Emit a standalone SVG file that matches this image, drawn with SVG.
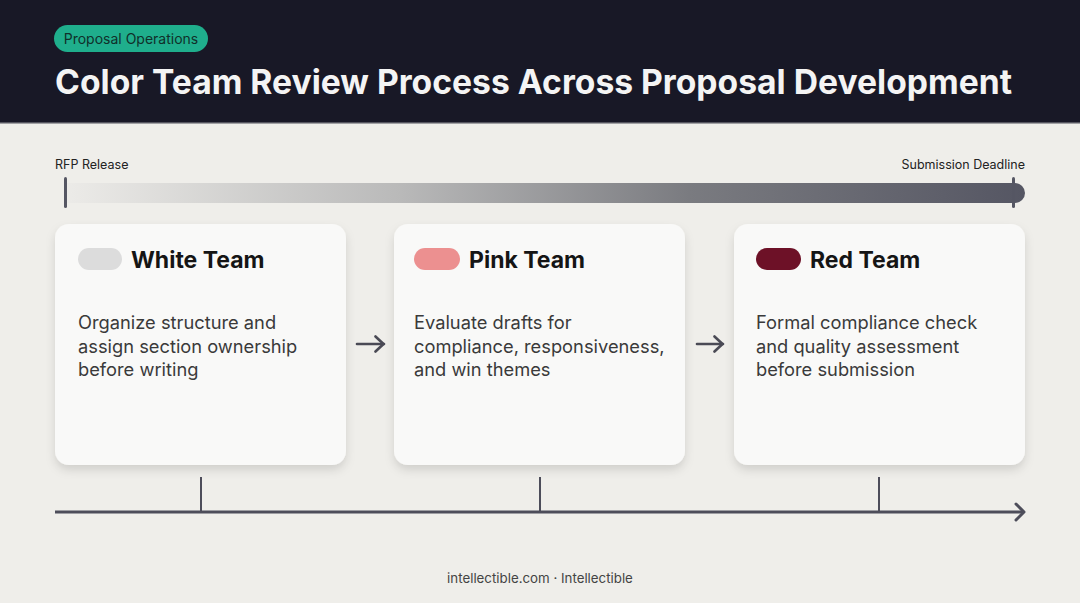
<svg xmlns="http://www.w3.org/2000/svg" width="1080" height="603" viewBox="0 0 1080 603">
<defs>
<linearGradient id="bar" x1="0" y1="0" x2="1" y2="0">
<stop offset="0" stop-color="#ecebe8"/>
<stop offset="0.35" stop-color="#b9b9b9"/>
<stop offset="0.65" stop-color="#7a7b80"/>
<stop offset="1" stop-color="#555663"/>
</linearGradient>
<filter id="sh" x="-10%" y="-10%" width="120%" height="125%">
<feDropShadow dx="0" dy="5" stdDeviation="5" flood-color="#000" flood-opacity="0.13"/>
</filter>
<marker id="chev" viewBox="0 0 12 20" refX="10" refY="10" markerWidth="12" markerHeight="20" markerUnits="userSpaceOnUse" orient="auto">
<path d="M2 2 L10 10 L2 18" fill="none" stroke="#4d4d5a" stroke-width="3" stroke-linecap="round" stroke-linejoin="round"/>
</marker>
<marker id="ah" viewBox="0 0 12 18" refX="11" refY="9" markerWidth="12" markerHeight="18" markerUnits="userSpaceOnUse" orient="auto">
<path d="M2.5 1.5 L10.5 9 L2.5 16.5" fill="none" stroke="#4a4a55" stroke-width="2.6" stroke-linecap="round" stroke-linejoin="round"/>
</marker>
</defs>
<style>
.f{font-family:Inter,"Liberation Sans",Arial,sans-serif}
.card{fill:#f9f9f8;filter:url(#sh)}
.ttl{font-size:23px;font-weight:700;fill:#151515}
.desc{font-size:18.3px;fill:#3a3a3a}
.lbl{font-size:12.5px;fill:#222}
.ax{stroke:#4d4d5a;fill:none}
</style>
<rect x="0" y="0" width="1080" height="603" fill="#efeeea"/>
<rect x="0" y="0" width="1080" height="123" fill="#181826"/>
<rect x="0" y="122" width="1080" height="1.5" fill="#55555f"/>
<g id="badge">
<rect x="54" y="25" width="154" height="27" rx="13.5" fill="#1fae8c"/>
<text class="f" x="131" y="44" font-size="14" fill="#10302a" text-anchor="middle">Proposal Operations</text>
</g>
<text id="title" class="f" x="55" y="94" font-size="34" font-weight="700" fill="#f4f4f4" textLength="957" lengthAdjust="spacingAndGlyphs">Color Team Review Process Across Proposal Development</text>
<g id="timeline">
<text class="f lbl" x="55" y="169">RFP Release</text>
<text class="f lbl" x="1025" y="169" text-anchor="end">Submission Deadline</text>
<path d="M65 183 H1015 A10 10 0 0 1 1015 203 H65 Z" fill="url(#bar)"/>
<rect x="64" y="177" width="3" height="31" rx="1.5" fill="#555663"/>
<rect x="1012" y="177" width="3" height="31" rx="1.5" fill="#555663"/>
</g>
<g id="white-team">
<rect class="card" x="55" y="224" width="291" height="241" rx="14"/>
<rect x="78" y="248" width="44" height="22" rx="11" fill="#dcdcdc"/>
<text class="f ttl" x="131" y="268">White Team</text>
<text class="f desc"><tspan x="78" y="329">Organize structure and</tspan><tspan x="78" y="352.5">assign section ownership</tspan><tspan x="78" y="376">before writing</tspan></text>
</g>
<g id="pink-team">
<rect class="card" x="394" y="224" width="291" height="241" rx="14"/>
<rect x="414" y="248" width="46" height="22" rx="11" fill="#ec9090"/>
<text class="f ttl" x="469" y="268">Pink Team</text>
<text class="f desc"><tspan x="414" y="329">Evaluate drafts for</tspan><tspan x="414" y="352.5">compliance, responsiveness,</tspan><tspan x="414" y="376">and win themes</tspan></text>
</g>
<g id="red-team">
<rect class="card" x="734" y="224" width="291" height="241" rx="14"/>
<rect x="756" y="248" width="45" height="22" rx="11" fill="#6d1127"/>
<text class="f ttl" x="810" y="268">Red Team</text>
<text class="f desc"><tspan x="756" y="329">Formal compliance check</tspan><tspan x="756" y="352.5">and quality assessment</tspan><tspan x="756" y="376">before submission</tspan></text>
</g>
<g id="connectors">
<line x1="357" y1="344" x2="384" y2="344" stroke="#4a4a55" stroke-width="2.6" stroke-linecap="round" marker-end="url(#ah)"/>
<line x1="697" y1="344" x2="723" y2="344" stroke="#4a4a55" stroke-width="2.6" stroke-linecap="round" marker-end="url(#ah)"/>
<line class="ax" x1="55" y1="512" x2="1024" y2="512" stroke-width="3" marker-end="url(#chev)"/>
<line class="ax" x1="201" y1="477" x2="201" y2="512" stroke-width="2"/>
<line class="ax" x1="540" y1="477" x2="540" y2="512" stroke-width="2"/>
<line class="ax" x1="879" y1="477" x2="879" y2="512" stroke-width="2"/>
</g>
<text id="footer" class="f" x="540" y="583" font-size="13.3" fill="#444" text-anchor="middle">intellectible.com · Intellectible</text>
</svg>
